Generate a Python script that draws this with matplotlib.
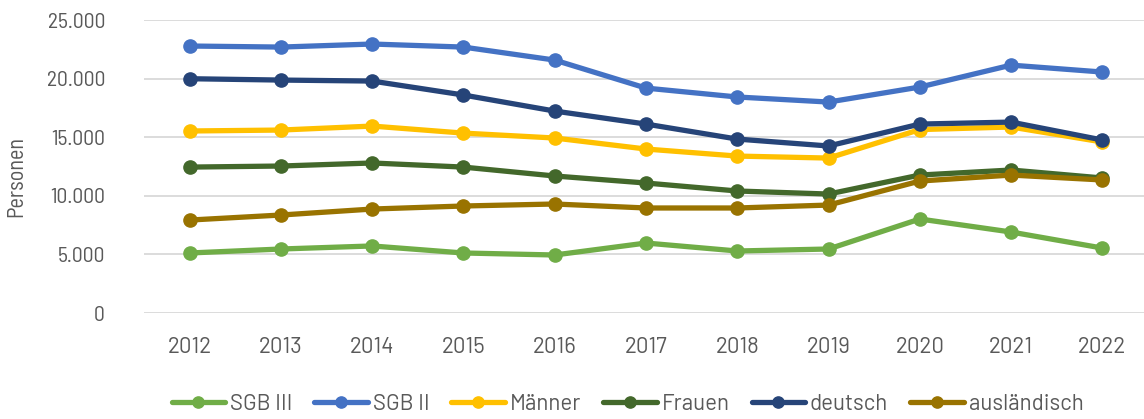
import matplotlib.pyplot as plt
from matplotlib import font_manager

names = {f.name for f in font_manager.fontManager.ttflist}


def pick(*wanted):
    found = [n for n in wanted if n in names]
    return found + ['DejaVu Sans']


wide_font = pick('Barlow', 'Roboto', 'Liberation Sans')
narrow_font = pick('Barlow Semi Condensed', 'Roboto Condensed', 'Liberation Sans Narrow')
plt.rcParams['font.family'] = wide_font

years = ['2012', '2013', '2014', '2015', '2016', '2017', '2018', '2019', '2020', '2021', '2022']

sgb3 = [5120, 5460, 5720, 5120, 4950, 5970, 5290, 5460, 8020, 6910, 5540]
sgb2 = [22780, 22690, 22950, 22690, 21580, 19190, 18430, 18000, 19280, 21150, 20560]
maenner = [15530, 15610, 15950, 15350, 14930, 13990, 13390, 13220, 15650, 15870, 14590]
frauen = [12450, 12540, 12800, 12450, 11690, 11090, 10410, 10150, 11770, 12200, 11520]
deutsch = [19990, 19875, 19790, 18600, 17230, 16120, 14840, 14250, 16120, 16290, 14760]
auslaendisch = [7930, 8360, 8870, 9130, 9300, 8960, 8960, 9210, 11260, 11770, 11350]

series = [
    ('SGB III', sgb3, '#70AD47'),
    ('SGB II', sgb2, '#4472C4'),
    ('Männer', maenner, '#FFC000'),
    ('Frauen', frauen, '#43682B'),
    ('deutsch', deutsch, '#264478'),
    ('ausländisch', auslaendisch, '#997300'),
]

fig = plt.figure(figsize=(11.44, 4.19), dpi=100)
ax = fig.add_axes([144 / 1144, 106 / 419, 1004 / 1144, 293 / 419])

x = list(range(len(years)))
for label, values, color in series:
    ax.plot(x, values, label=label, color=color, linewidth=3.8,
            marker='o', markersize=9.5, solid_capstyle='round')

ax.set_xlim(-0.5, len(years) - 0.5)
ax.set_ylim(0, 25000)
ax.set_yticks([0, 5000, 10000, 15000, 20000, 25000])
ax.set_yticklabels(['0', '5.000', '10.000', '15.000', '20.000', '25.000'],
                   family=narrow_font, fontsize=15.5)
ax.set_xticks(x)
ax.set_xticklabels(years, fontsize=16)
ax.tick_params(axis='both', length=0, colors='#595959')
ax.tick_params(axis='y', pad=28)
ax.tick_params(axis='x', pad=17)
ax.grid(axis='y', color='#D9D9D9', linewidth=1.3)
ax.set_axisbelow(True)
for s in ax.spines.values():
    s.set_visible(False)

ax.set_ylabel('Personen', fontsize=16, color='#595959', family=narrow_font,
              va='center', ha='center')
ax.yaxis.set_label_coords(-127 / 1004, (313 - 176) / 293)

fig.legend(loc='center', bbox_to_anchor=(0.5485, 15 / 419), ncol=6, frameon=False,
           fontsize=16, handlelength=2.4, columnspacing=1.0, handletextpad=0.22,
           labelcolor='#595959', markerscale=0.85)

fig.savefig('out.png', dpi=100)
